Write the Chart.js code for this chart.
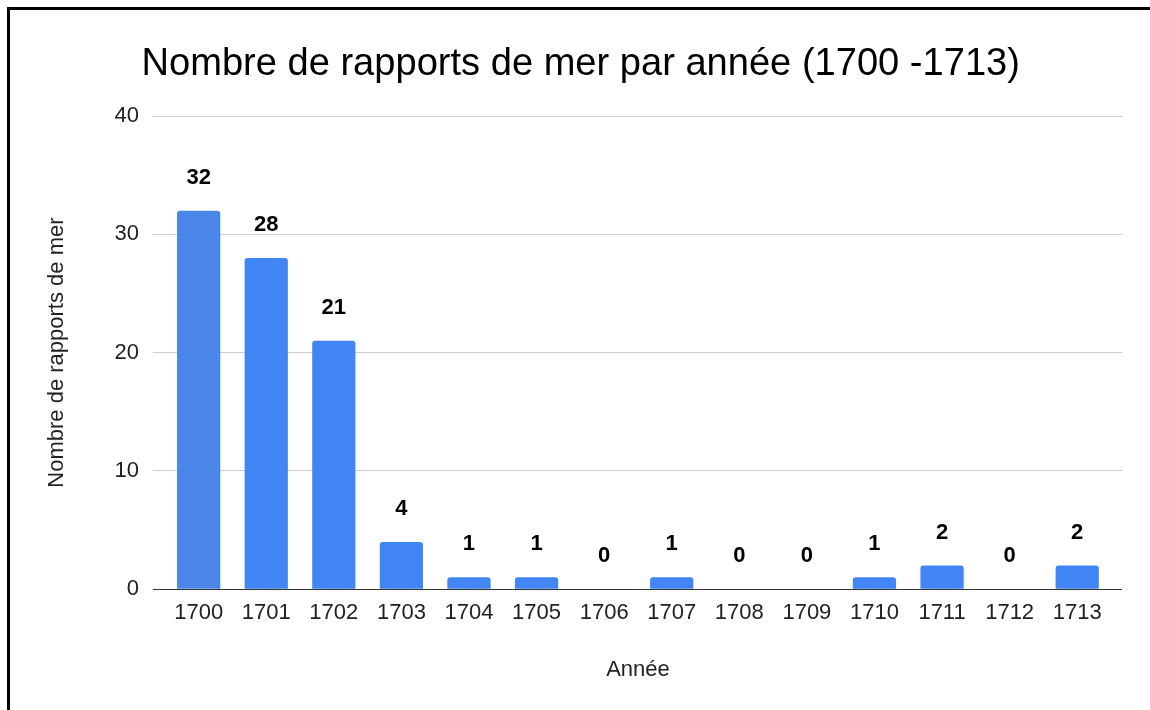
<!DOCTYPE html>
<html>
<head>
<meta charset="utf-8">
<script src="https://cdn.jsdelivr.net/npm/chart.js@4"></script>
<style>
  html, body { margin: 0; padding: 0; background: #fff; overflow: hidden; }
  #frame { position: absolute; left: 7px; top: 7px; width: 1200px; height: 760px;
           border-left: 3px solid #000; border-top: 3px solid #000; }
  #wrap { position: absolute; left: 0; top: 0; width: 1150px; height: 710px; }
</style>
</head>
<body>
<div id="frame"></div>
<div id="wrap"><canvas id="chart" width="1150" height="710"></canvas></div>
<script>
// data
const years = ["1700", "1701", "1702", "1703", "1704", "1705", "1706",
               "1707", "1708", "1709", "1710", "1711", "1712", "1713"];
const reports = [32, 28, 21, 4, 1, 1, 0, 1, 0, 0, 1, 2, 0, 2];
const yTicks = [0, 10, 20, 30, 40];

const titleText = "Nombre de rapports de mer par année (1700 -1713)";
const xTitle = "Année";
const yTitle = "Nombre de rapports de mer";

const FONT = "'Liberation Sans', Arial, sans-serif";

// first bar is a slightly different blue in the original
const barColors = reports.map((v, i) => i === 0 ? "#4a86e8" : "#4285f4");

const gridColor = c => (c.tick && c.tick.value === 0) ? "#333333" : "#cccccc";

// value labels above each bar
const valueLabels = {
  id: "valueLabels",
  afterDatasetsDraw(chart) {
    const ctx = chart.ctx;
    const meta = chart.getDatasetMeta(0);
    ctx.save();
    ctx.font = "bold 22px " + FONT;
    ctx.fillStyle = "#000";
    ctx.textAlign = "center";
    ctx.textBaseline = "middle";
    meta.data.forEach((bar, i) => {
      ctx.fillText(String(reports[i]), bar.x, bar.y - 33);
    });
    ctx.restore();
  }
};

// left aligned title like the original
const leftTitle = {
  id: "leftTitle",
  afterDraw(chart) {
    const ctx = chart.ctx;
    ctx.save();
    ctx.font = "38.1px " + FONT;
    ctx.fillStyle = "#000";
    ctx.textAlign = "left";
    ctx.textBaseline = "alphabetic";
    ctx.fillText(titleText, 141.5, 75);
    ctx.restore();
  }
};

new Chart(document.getElementById("chart"), {
  type: "bar",
  data: {
    labels: years,
    datasets: [{
      data: reports,
      backgroundColor: barColors,
      borderRadius: 3,
      borderSkipped: "bottom",
      categoryPercentage: 1,
      barPercentage: 0.64
    }]
  },
  options: {
    responsive: false,
    animation: false,
    layout: { padding: { top: 116, left: 10, right: 28, bottom: 23 } },
    plugins: {
      legend: { display: false },
      tooltip: { enabled: false }
    },
    scales: {
      x: {
        grid: { display: false },
        border: { display: false },
        ticks: { color: "#222", font: { family: FONT, size: 22 }, padding: 3 },
        title: {
          display: true, text: xTitle, color: "#222",
          font: { family: FONT, size: 22 }, padding: { top: 27, bottom: 4 }
        }
      },
      y: {
        min: 0, max: 40,
        afterBuildTicks: s => { s.ticks = yTicks.map(v => ({ value: v })); },
        grid: { color: gridColor, tickLength: 12 },
        border: { display: false },
        ticks: { color: "#222", font: { family: FONT, size: 22 }, padding: 14 },
        title: {
          display: true, text: yTitle, color: "#222",
          font: { family: FONT, size: 22 }, padding: { top: 34, bottom: 30 }
        }
      },
      y2: {
        position: "right",
        min: 0, max: 40,
        afterBuildTicks: s => { s.ticks = yTicks.map(v => ({ value: v })); },
        grid: { color: gridColor, tickLength: 11, drawOnChartArea: false },
        border: { display: false },
        ticks: { display: false }
      }
    }
  },
  plugins: [valueLabels, leftTitle]
});
</script>
</body>
</html>
